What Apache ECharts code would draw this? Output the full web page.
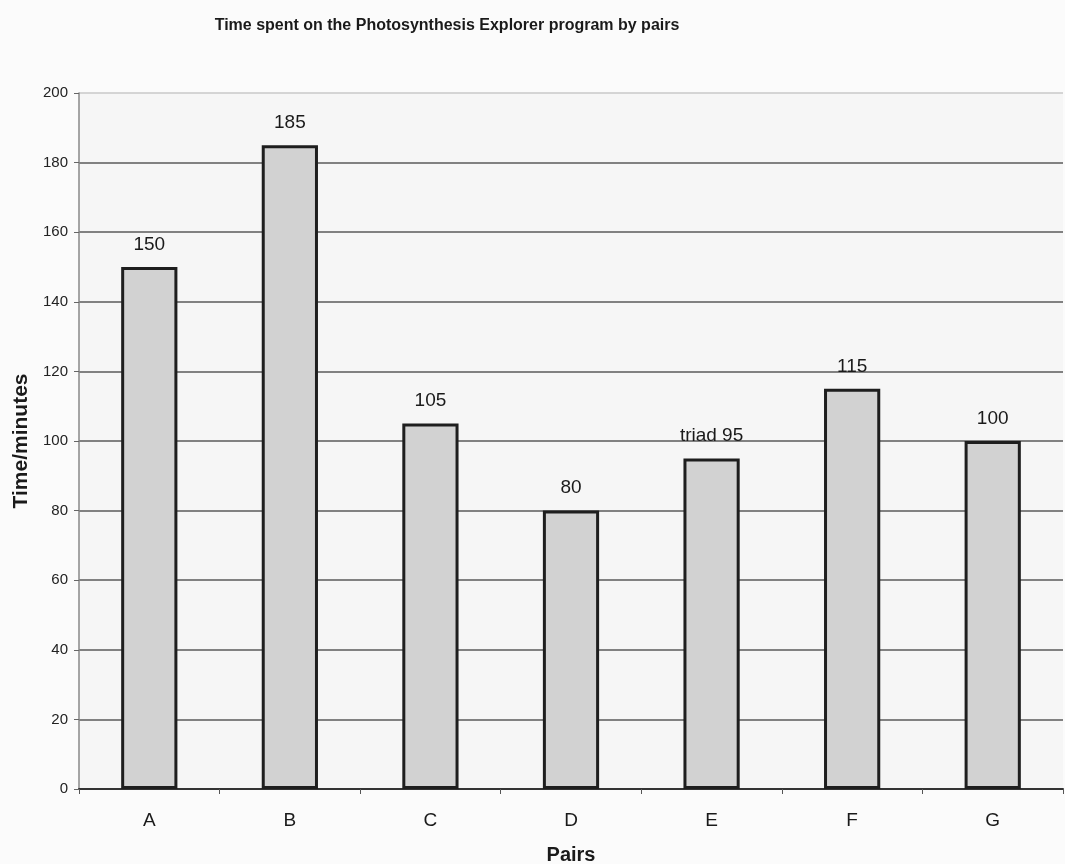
<!DOCTYPE html>
<html>
<head>
<meta charset="utf-8">
<script src="https://cdn.jsdelivr.net/npm/echarts@6/dist/echarts.min.js"></script>
<style>
  html, body { margin: 0; padding: 0; background: #fbfbfb; }
  #chart { width: 1065px; height: 864px; }
</style>
</head>
<body>
<div id="chart"></div>
<script>
// Minutes each pair spent in the program
const pairs = ['A', 'B', 'C', 'D', 'E', 'F', 'G'];
const minutes = [150, 185, 105, 80, 95, 115, 100];
const labelPrefixes = ['', '', '', '', 'triad ', '', ''];
const yTicks = [0, 20, 40, 60, 80, 100, 120, 140, 160, 180, 200];

const font = '"Liberation Sans", Arial, sans-serif';

// grid lines: all dark except the top one, which is faint
const gridColors = yTicks.map((v, i) => (i === yTicks.length - 1 ? '#c8c8c8' : '#5a5a5a'));

const chart = echarts.init(document.getElementById('chart'), null, { renderer: 'canvas' });

chart.setOption({
  backgroundColor: '#fbfbfb',
  animation: false,
  title: {
    text: 'Time spent on the Photosynthesis Explorer program by pairs',
    left: 442,
    top: 13,
    textAlign: 'center',
    textStyle: { fontFamily: font, fontSize: 16, fontWeight: 'bold', color: '#1a1a1a' }
  },
  grid: {
    left: 79, right: 2, top: 93, bottom: 75,
    outerBoundsMode: 'none',
    containLabel: false,
    show: true, backgroundColor: '#f6f6f6', borderWidth: 0
  },
  xAxis: {
    type: 'category',
    data: pairs,
    name: 'Pairs',
    nameLocation: 'middle',
    nameGap: 56,
    nameTextStyle: { fontFamily: font, fontSize: 20, fontWeight: 'bold', color: '#1a1a1a' },
    axisLine: { lineStyle: { color: '#333', width: 2 } },
    axisTick: { show: true, length: 5, lineStyle: { color: '#555' } },
    axisLabel: { fontFamily: font, fontSize: 19, color: '#1a1a1a', margin: 22 }
  },
  yAxis: {
    type: 'value',
    min: 0, max: 200, interval: 20,
    name: 'Time/minutes',
    nameLocation: 'middle',
    nameGap: 47,
    nameRotate: 90,
    nameTextStyle: { fontFamily: font, fontSize: 21, fontWeight: 'bold', color: '#1a1a1a' },
    axisLine: { show: true, lineStyle: { color: '#888', width: 1.5 } },
    axisTick: { show: true, length: 5, lineStyle: { color: '#666' } },
    axisLabel: { fontFamily: font, fontSize: 15, color: '#222', margin: 11 },
    splitLine: { show: true, lineStyle: { color: gridColors, width: 1.5 } }
  },
  series: [{
    type: 'bar',
    data: minutes,
    barWidth: '40%',
    itemStyle: { color: '#d2d2d2', borderColor: '#1e1e1e', borderWidth: 3 },
    label: {
      show: true,
      position: 'top',
      distance: 13,
      fontFamily: font,
      fontSize: 19,
      color: '#1a1a1a',
      formatter: p => labelPrefixes[p.dataIndex] + p.value
    }
  }]
});
</script>
</body>
</html>
